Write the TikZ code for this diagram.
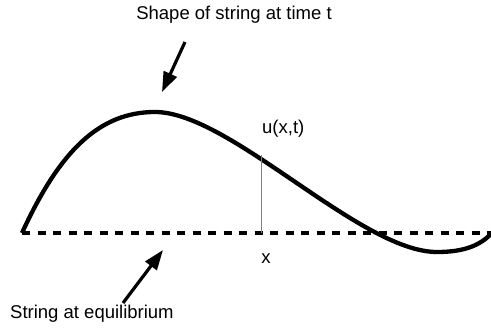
\documentclass[tikz,border=0pt]{standalone}
\usepackage{fontspec}
\setmainfont{Liberation Sans}
\usetikzlibrary{arrows.meta}

\begin{document}
\begin{tikzpicture}[x=1pt, y=-1pt, font=\fontsize{18.5}{22}\selectfont,
  lbl/.style={inner sep=0pt},
  pointer/.style={-{Triangle[length=20pt, width=14pt]}, line width=3.2pt}]

\useasboundingbox (0,0) rectangle (491,329);

% 平衡位置（虚线）
\draw[line width=3.3pt, dash pattern=on 8pt off 7.5pt] (22,233) -- (491,233);

% t 时刻弦的形状
\draw[line width=4.3pt] (22,233)
  .. controls (60,150) and (100,112) .. (155,112)
  .. controls (230,112) and (360,252) .. (437,252)
  .. controls (465,252) and (480,245) .. (491,234);

% 位移 u(x,t)
\coordinate (U) at (261,155);
\coordinate (X) at (261,233);
\draw[gray, line width=1pt] (U) -- (X);
\node[lbl, anchor=west] (ulab) at (262,129) {u(x,t)};
\node[lbl] (xlab) at (266,259) {x};

% 标注
\node[lbl] (shape) at (234,15) {Shape of string at time t};
\coordinate (shapetail) at (185,42);
\coordinate (shapehead) at (162,92);
\draw[pointer] (shapetail) -- (shapehead);

\node[lbl, anchor=west] (equil) at (10,314) {String at equilibrium};
\coordinate (equiltail) at (123,303);
\coordinate (equilhead) at (163,250);
\draw[pointer] (equiltail) -- (equilhead);

\end{tikzpicture}
\end{document}
